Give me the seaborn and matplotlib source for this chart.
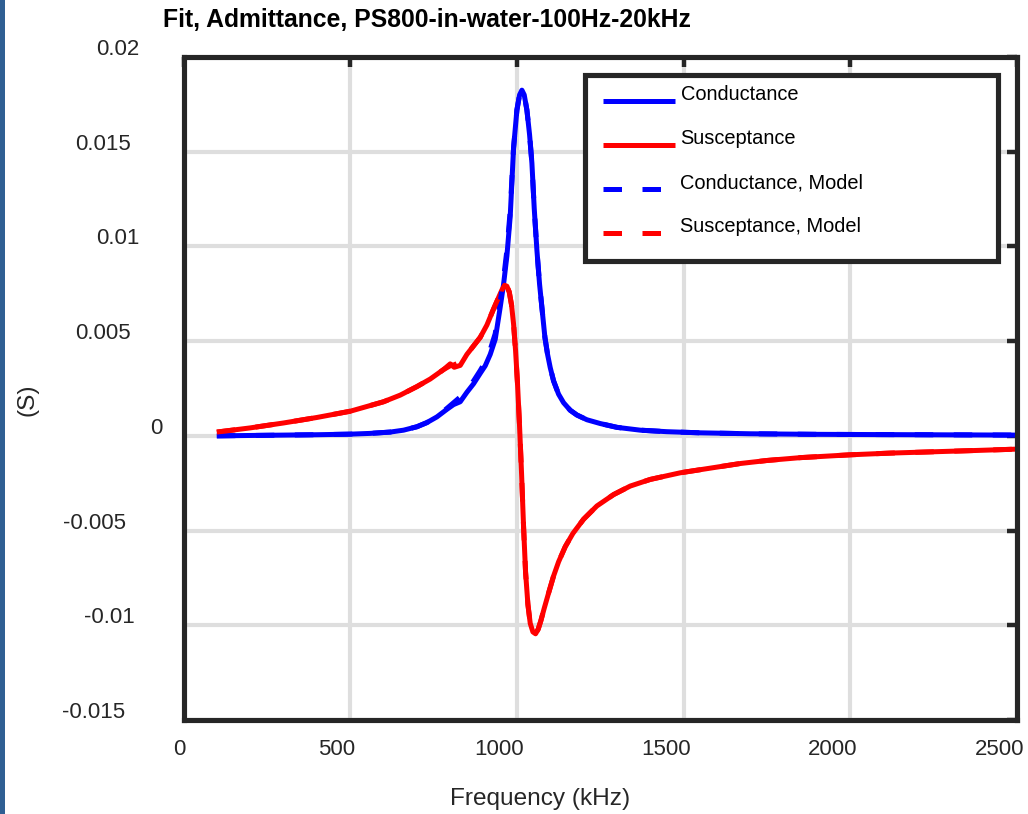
import matplotlib
matplotlib.use("Agg")
import matplotlib.pyplot as plt
import matplotlib.transforms as mtransforms
from matplotlib.patches import Rectangle
import seaborn as sns
import pandas as pd

# ---------------- data ----------------
freq_G = [100, 200, 300, 400, 500, 560, 620, 660, 700, 730, 760, 790, 810, 830,
          850, 870, 890, 905, 920, 935, 950, 960, 970, 980, 990, 1000, 1008,
          1015, 1022, 1030, 1038, 1045, 1052, 1060, 1068, 1076, 1084, 1092,
          1100, 1110, 1125, 1140, 1160, 1180, 1210, 1250, 1300, 1370, 1450,
          1550, 1700, 1900, 2200, 2500]
G_meas = [0.00000, 0.00002, 0.00004, 0.00006, 0.00009, 0.00013, 0.00020,
          0.00030, 0.00048, 0.00070, 0.00100, 0.00140, 0.00165, 0.00180,
          0.00230, 0.00275, 0.00330, 0.00370, 0.00430, 0.00510, 0.00680,
          0.00800, 0.00950, 0.01160, 0.01520, 0.01720, 0.01800, 0.01825,
          0.01800, 0.01720, 0.01590, 0.01440, 0.01200, 0.00980, 0.00800,
          0.00660, 0.00520, 0.00430, 0.00360, 0.00290, 0.00220, 0.00175,
          0.00135, 0.00110, 0.00085, 0.00065, 0.00045, 0.00030, 0.00022,
          0.00016, 0.00011, 0.00008, 0.00006, 0.00004]
G_model = [0.00000, 0.00002, 0.00004, 0.00006, 0.00009, 0.00013, 0.00020,
           0.00030, 0.00048, 0.00070, 0.00100, 0.00145, 0.00175, 0.00205,
           0.00245, 0.00290, 0.00345, 0.00390, 0.00455, 0.00540, 0.00710,
           0.00830, 0.00980, 0.01190, 0.01520, 0.01720, 0.01800, 0.01825,
           0.01800, 0.01720, 0.01590, 0.01440, 0.01200, 0.00980, 0.00800,
           0.00660, 0.00520, 0.00430, 0.00360, 0.00290, 0.00220, 0.00175,
           0.00135, 0.00110, 0.00085, 0.00065, 0.00045, 0.00030, 0.00022,
           0.00016, 0.00011, 0.00008, 0.00006, 0.00004]

freq_B = [100, 200, 300, 400, 500, 600, 650, 700, 740, 780, 800, 812, 830,
          850, 870, 890, 910, 930, 945, 955, 963, 970, 977, 984, 990, 996,
          1002, 1008, 1014, 1020, 1026, 1033, 1040, 1048, 1056, 1064, 1072,
          1082, 1095, 1110, 1125, 1145, 1168, 1200, 1240, 1290, 1340, 1400,
          1490, 1600, 1670, 1750, 1850, 2000, 2120, 2250, 2380, 2500]
B_meas = [0.00020, 0.00042, 0.00068, 0.00097, 0.00130, 0.00180, 0.00215,
          0.00260, 0.00300, 0.00350, 0.00380, 0.00362, 0.00372, 0.00430,
          0.00475, 0.00520, 0.00585, 0.00670, 0.00730, 0.00770, 0.00795,
          0.00790, 0.00760, 0.00690, 0.00590, 0.00450, 0.00270, 0.00050,
          -0.00200, -0.00480, -0.00720, -0.00890, -0.00990, -0.01035,
          -0.01045, -0.01020, -0.00975, -0.00910, -0.00830, -0.00740,
          -0.00665, -0.00585, -0.00515, -0.00440, -0.00370, -0.00310,
          -0.00265, -0.00230, -0.00195, -0.00165, -0.00146, -0.00130,
          -0.00115, -0.00100, -0.00091, -0.00084, -0.00077, -0.00070]
B_model = [0.00020, 0.00042, 0.00068, 0.00097, 0.00130, 0.00180, 0.00215,
           0.00260, 0.00300, 0.00350, 0.00370, 0.00375, 0.00390, 0.00430,
           0.00475, 0.00520, 0.00585, 0.00670, 0.00730, 0.00770, 0.00795,
           0.00790, 0.00760, 0.00690, 0.00590, 0.00450, 0.00270, 0.00050,
           -0.00200, -0.00480, -0.00720, -0.00890, -0.00990, -0.01035,
           -0.01045, -0.01020, -0.00975, -0.00910, -0.00830, -0.00740,
           -0.00665, -0.00585, -0.00515, -0.00440, -0.00370, -0.00310,
           -0.00265, -0.00230, -0.00195, -0.00165, -0.00146, -0.00130,
           -0.00115, -0.00100, -0.00091, -0.00084, -0.00077, -0.00070]

x_ticks = [0, 500, 1000, 1500, 2000, 2500]
x_tick_labels = ["0", "500", "1000", "1500", "2000", "2500"]
y_ticks = [-0.015, -0.01, -0.005, 0, 0.005, 0.01, 0.015, 0.02]
y_tick_labels = ["-0.015", "-0.01", "-0.005", "0", "0.005", "0.01", "0.015", "0.02"]

title = "Fit, Admittance, PS800-in-water-100Hz-20kHz"
x_label = "Frequency (kHz)"
y_label = "(S)"
labels = ["Conductance", "Susceptance", "Conductance, Model", "Susceptance, Model"]

# ---------------- style ----------------
sns.set_style("white")
plt.rcParams["font.family"] = ["Liberation Sans", "DejaVu Sans"]

W, H, DPI = 1028, 814, 100
fig = plt.figure(figsize=(W / DPI, H / DPI), dpi=DPI)
ax_l, ax_r, ax_t, ax_b = 183.5, 1017.0, 57.0, 720.0
ax = fig.add_axes([ax_l / W, 1 - ax_b / H, (ax_r - ax_l) / W, (ax_b - ax_t) / H])

df_G = pd.DataFrame({"f": freq_G, "meas": G_meas, "model": G_model})
df_B = pd.DataFrame({"f": freq_B, "meas": B_meas, "model": B_model})

LW = 3.6
dash = (0, (3.7, 4.1))
sns.lineplot(data=df_G, x="f", y="meas", ax=ax, color="#0000ff", lw=LW,
             label=labels[0], sort=False, solid_capstyle="butt")
sns.lineplot(data=df_B, x="f", y="meas", ax=ax, color="#ff0000", lw=LW,
             label=labels[1], sort=False, solid_capstyle="butt")
sns.lineplot(data=df_G, x="f", y="model", ax=ax, color="#0000ff", lw=LW,
             linestyle=dash, label=labels[2], sort=False)
sns.lineplot(data=df_B, x="f", y="model", ax=ax, color="#ff0000", lw=LW,
             linestyle=dash, label=labels[3], sort=False)

ax.set_xlim(0, 2500)
ax.set_ylim(-0.015, 0.02)
ax.set_xticks(x_ticks)
ax.set_xticklabels(x_tick_labels)
ax.set_yticks(y_ticks)
ax.set_yticklabels(y_tick_labels)

ax.grid(True, color="#dedede", lw=3.0)
ax.set_axisbelow(True)
for s in ax.spines.values():
    s.set_visible(True)
    s.set_color("#262626")
    s.set_linewidth(3.7)
ax.tick_params(axis="both", which="both", direction="in", length=7.5, width=3.2,
               color="#262626", labelsize=16, labelcolor="#262626",
               top=True, right=True)
ax.tick_params(axis="x", pad=14)
ax.tick_params(axis="y", pad=9)

ax.set_title(title, loc="left", x=(163 - ax_l) / (ax_r - ax_l), pad=21.5,
             fontsize=17.8, fontweight="bold", color="black")
ax.set_xlabel(x_label, fontsize=17.6, color="#262626")
ax.set_ylabel(y_label, fontsize=17.6, color="#262626")
ax.xaxis.set_label_coords((540 - ax_l) / (ax_r - ax_l), (ax_b - 788) / (ax_b - ax_t))
ax.yaxis.set_label_coords((38 - ax_l) / (ax_r - ax_l), (ax_b - 400) / (ax_b - ax_t))

# legend
bx0, bx1, by0, by1 = 585, 998, 75, 263
leg = ax.legend(loc="upper left",
                bbox_to_anchor=((bx0 - ax_l) / (ax_r - ax_l), (ax_b - by1) / (ax_b - ax_t),
                                (bx1 - bx0) / (ax_r - ax_l), (by1 - by0) / (ax_b - ax_t)),
                mode="expand", fontsize=14.4, handlelength=3.6, handletextpad=0.3,
                labelspacing=1.25, borderpad=0.875, borderaxespad=0.0,
                frameon=True, fancybox=False, framealpha=1.0)
leg.get_frame().set_edgecolor("#262626")
leg.get_frame().set_linewidth(3.7)
for t in leg.get_texts():
    t.set_color("black")
    t.set_y(7)

# left window strip (decoration of the screenshot)
fig.patches.append(Rectangle((0, 0), 5 / W, 1, transform=fig.transFigure,
                             facecolor="#2f5f93", edgecolor="none"))

# emulate the reference's tick-label placement
fig.canvas.draw()
for lab in ax.get_yticklabels():
    w = lab.get_window_extent().width
    off = mtransforms.ScaledTranslation(-0.72 * w / DPI, 10 / DPI, fig.dpi_scale_trans)
    lab.set_transform(lab.get_transform() + off)
for lab in ax.get_xticklabels():
    w = lab.get_window_extent().width
    off = mtransforms.ScaledTranslation(-0.36 * w / DPI, 0, fig.dpi_scale_trans)
    lab.set_transform(lab.get_transform() + off)

fig.savefig("out.png", dpi=DPI)
